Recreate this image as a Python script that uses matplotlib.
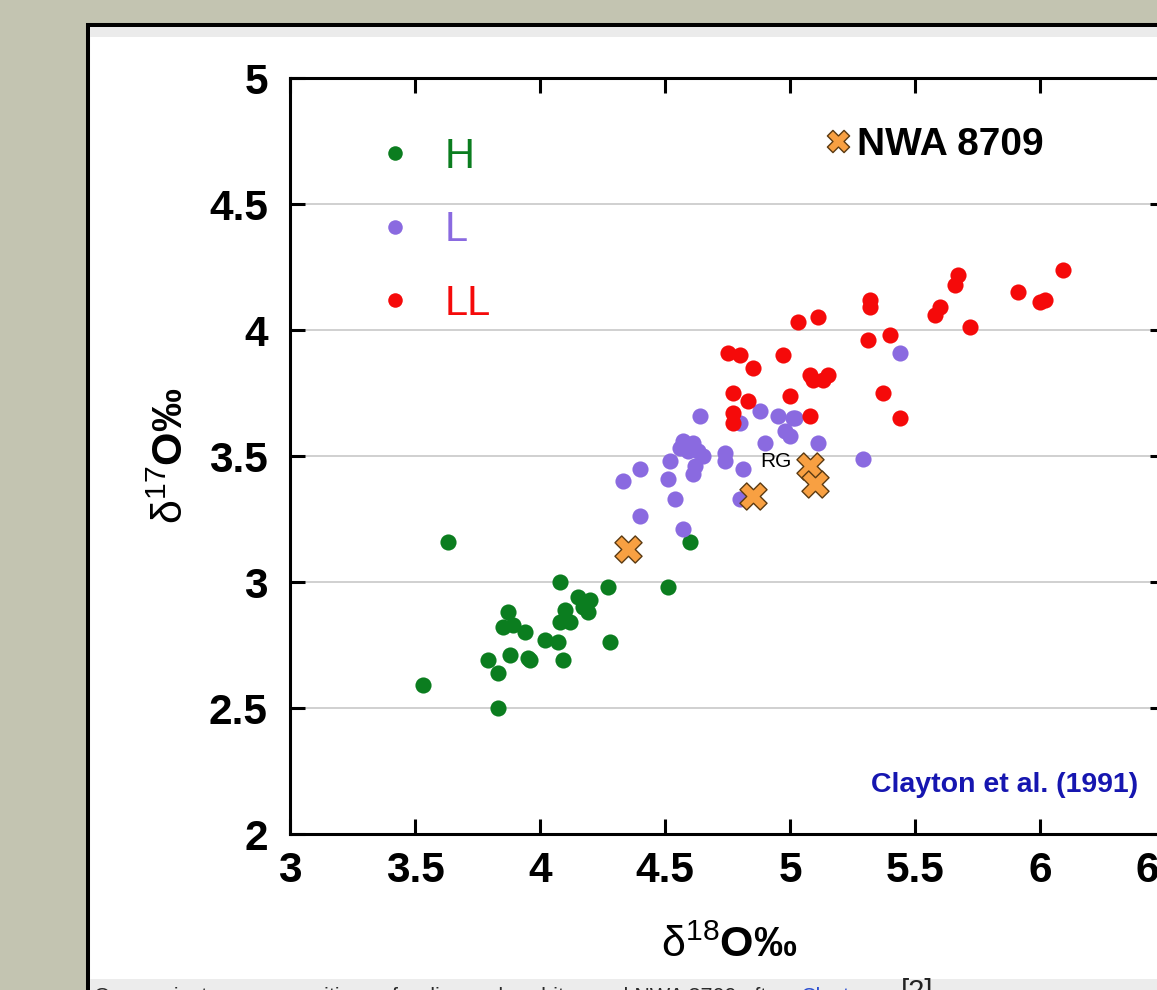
import matplotlib.pyplot as plt
from matplotlib.patches import Rectangle

plt.rcParams['font.family'] = ['Liberation Sans', 'DejaVu Sans']
plt.rcParams['mathtext.fontset'] = 'custom'
plt.rcParams['mathtext.rm'] = 'Liberation Sans'
plt.rcParams['mathtext.it'] = 'Liberation Sans:italic'
plt.rcParams['mathtext.bf'] = 'Liberation Sans:bold'

# ordinary chondrites, d18O / d17O in permil (Clayton et al. 1991)
H_d18 = [3.53, 3.63, 3.83, 3.79, 3.83, 3.87, 3.85, 3.89, 3.88, 3.94, 3.96,
         3.95, 4.02, 4.07, 4.09, 4.08, 4.10, 4.08, 4.12, 4.15, 4.17, 4.20,
         4.19, 4.27, 4.28, 4.51, 4.60]
H_d17 = [2.59, 3.16, 2.50, 2.69, 2.64, 2.88, 2.82, 2.83, 2.71, 2.80, 2.69,
         2.70, 2.77, 2.76, 2.69, 3.00, 2.89, 2.84, 2.84, 2.94, 2.90, 2.93,
         2.88, 2.98, 2.76, 2.98, 3.16]

L_d18 = [4.64, 4.80, 4.88, 4.95, 5.01, 5.02, 4.98, 5.00, 4.90, 5.11, 5.29,
         5.44, 4.74, 4.74, 4.81, 4.80, 4.57, 4.61, 4.59, 4.56, 4.65, 4.63,
         4.52, 4.40, 4.33, 4.51, 4.62, 4.61, 4.54, 4.40, 4.57]
L_d17 = [3.66, 3.63, 3.68, 3.66, 3.65, 3.65, 3.60, 3.58, 3.55, 3.55, 3.49,
         3.91, 3.51, 3.48, 3.45, 3.33, 3.56, 3.55, 3.52, 3.53, 3.50, 3.52,
         3.48, 3.45, 3.40, 3.41, 3.46, 3.43, 3.33, 3.26, 3.21]

LL_d18 = [6.09, 5.91, 6.00, 6.02, 5.67, 5.66, 5.60, 5.58, 5.72, 5.32, 5.32,
          5.31, 5.40, 5.37, 5.44, 5.11, 5.03, 4.97, 4.75, 4.80, 4.85, 5.08,
          5.15, 5.13, 5.09, 5.00, 4.77, 4.83, 5.08, 4.77, 4.77]
LL_d17 = [4.24, 4.15, 4.11, 4.12, 4.22, 4.18, 4.09, 4.06, 4.01, 4.12, 4.09,
          3.96, 3.98, 3.75, 3.65, 4.05, 4.03, 3.90, 3.91, 3.90, 3.85, 3.82,
          3.82, 3.80, 3.80, 3.74, 3.75, 3.72, 3.66, 3.67, 3.63]

# NWA 8709 subsamples
nwa_d18 = [4.35, 4.85, 5.08, 5.10]
nwa_d17 = [3.13, 3.34, 3.46, 3.39]

groups = ['H', 'L', 'LL']
group_colors = ['#0b7d1f', '#8a6ae0', '#f50a0a']

x_ticks = [3, 3.5, 4, 4.5, 5, 5.5, 6, 6.5]
x_ticklabels = ['3', '3.5', '4', '4.5', '5', '5.5', '6', '6.5']
y_ticks = [2, 2.5, 3, 3.5, 4, 4.5, 5]
y_ticklabels = ['2', '2.5', '3', '3.5', '4', '4.5', '5']

W, H = 1157, 990


def fx(px):
    return px / W


def fy(py):
    return 1 - py / H


fig = plt.figure(figsize=(W / 100, H / 100), dpi=100)
fig.patch.set_facecolor('#c3c4b1')

# white slide panel with a black frame, grey strips top and bottom
fig.add_artist(Rectangle((fx(88), -0.2), 1.5, fy(24.5) + 0.2, transform=fig.transFigure,
                         fc='white', ec='black', lw=2.9, zorder=-2))
fig.add_artist(Rectangle((fx(90), fy(36.5)), 1.5, (36.5 - 26.7) / H, transform=fig.transFigure,
                         fc='#ebebeb', ec='none', zorder=-1))
fig.add_artist(Rectangle((fx(90), -0.1), 1.5, 0.1 + (990 - 979) / H, transform=fig.transFigure,
                         fc='#ececec', ec='none', zorder=-1))

ax = fig.add_axes([fx(290), fy(834), (1165 - 290) / W, (834 - 78) / H])

handles = []
for name, xs, ys, col in zip(groups, [H_d18, L_d18, LL_d18], [H_d17, L_d17, LL_d17], group_colors):
    handles.append(ax.scatter(xs, ys, s=135, c=col, lw=0, label=name, zorder=3))
nwa = ax.scatter(nwa_d18, nwa_d17, s=380, marker='X', c='#f8a042', edgecolors='#5a3a12',
                 linewidths=1.0, zorder=4, label='NWA 8709')
ax.annotate('RG', xy=(nwa_d18[2], nwa_d17[2]), xytext=(-13, 3), textcoords='offset points',
            ha='right', va='center', fontsize=15)

ax.set_xlim(3, 6.5)
ax.set_ylim(2, 5)
ax.set_xticks(x_ticks, x_ticklabels, fontsize=30.5, fontweight='bold')
ax.set_yticks(y_ticks, y_ticklabels, fontsize=30.5, fontweight='bold')
ax.tick_params(direction='in', length=11, width=2.2, top=True, right=True)
ax.tick_params(axis='x', pad=12.5)
ax.tick_params(axis='y', pad=16)
for sp in ax.spines.values():
    sp.set_linewidth(2.2)
ax.yaxis.grid(True, color='#c8c8c8', lw=1.2)
ax.set_axisbelow(True)

ax.set_xlabel(r'$\mathrm{\delta}^{18}$O‰', fontsize=31, fontweight='bold')
ax.xaxis.set_label_coords(0.502, -0.121)
ax.set_ylabel(r'$\mathrm{\delta}^{17}$O‰', fontsize=31, fontweight='bold')
ax.yaxis.set_label_coords(-0.112, 0.5)

leg1 = ax.legend(handles=handles, loc='upper left', bbox_to_anchor=(fx(378), fy(137)),
                 bbox_transform=fig.transFigure, frameon=False, fontsize=30,
                 handlelength=0.8, handletextpad=0.8, labelspacing=0.80, borderpad=0,
                 borderaxespad=0, markerscale=0.9, scatterpoints=1, scatteryoffsets=[0.5])
for t, c in zip(leg1.get_texts(), group_colors):
    t.set_color(c)
ax.add_artist(leg1)
ax.legend(handles=[nwa], loc='upper left', bbox_to_anchor=(fx(826), fy(127)),
          bbox_transform=fig.transFigure, frameon=False, prop={'size': 28, 'weight': 'bold'},
          handlelength=0.6, handletextpad=0.2, borderpad=0, borderaxespad=0,
          markerscale=0.82, scatterpoints=1, scatteryoffsets=[0.5])

fig.text(fx(1138), fy(792), 'Clayton et al. (1991)', ha='right', va='baseline',
         fontsize=20.5, fontweight='bold', color='#1616b0')

# caption line at the bottom of the slide
fig.text(fx(94), fy(1003), 'Oxygen isotope compositions of ordinary chondrites and NWA 8709 after',
         fontsize=15.5, color='#2a2a2a', va='baseline')
fig.text(fx(801), fy(1003), 'Clayton', fontsize=15.5, color='#2b4fd0', va='baseline')
fig.text(fx(901), fy(1000), '[2]', fontsize=21, color='#222222', va='baseline')

fig.savefig('out.png', dpi=100)
